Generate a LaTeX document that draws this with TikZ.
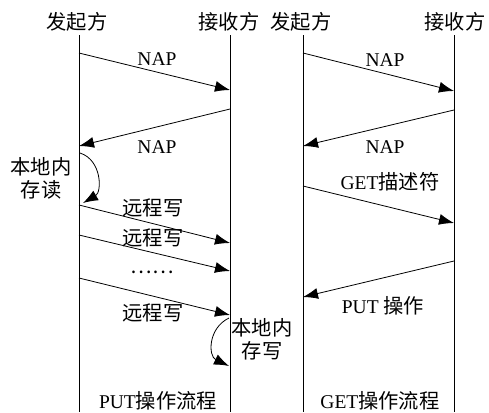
\documentclass[tikz,border=0pt]{standalone}
\usepackage{fontspec}
\setmainfont{Liberation Serif}
\newfontfamily\cjk[Scale=1.04]{Noto Sans CJK SC}
\usetikzlibrary{arrows.meta}
\begin{document}
\begin{tikzpicture}[x=1bp,y=-1bp,
  font=\fontsize{19.5bp}{23bp}\selectfont,
  life/.style={line width=0.8bp},
  msg/.style={line width=0.8bp,-{Latex[length=15bp,width=11bp]}},
  lbl/.style={inner sep=0pt,align=center}]
\useasboundingbox (0,0) rectangle (489,412);
% headers
\node[lbl] (h1) at (77,22) {\cjk 发起方};
\node[lbl] (h2) at (229,22) {\cjk 接收方};
\node[lbl] (h3) at (301,22) {\cjk 发起方};
\node[lbl] (h4) at (455,22) {\cjk 接收方};
% lifelines
\coordinate (a0) at (79,35);  \coordinate (a1) at (79,412);
\coordinate (b0) at (230,35); \coordinate (b1) at (230,412);
\coordinate (c0) at (303,35); \coordinate (c1) at (303,412);
\coordinate (d0) at (454,35); \coordinate (d1) at (454,412);
\draw[life] (a0) -- (a1);
\draw[life] (b0) -- (b1);
\draw[life] (c0) -- (c1);
\draw[life] (d0) -- (d1);
% PUT panel
\coordinate (p1s) at (79,53);  \coordinate (p1e) at (230,90);
\coordinate (p2s) at (230,109); \coordinate (p2e) at (79,146);
\coordinate (p3s) at (80,153);  \coordinate (p3e) at (83,203);
\coordinate (p4s) at (79,205);  \coordinate (p4e) at (230,243);
\coordinate (p5s) at (79,235);  \coordinate (p5e) at (230,271);
\coordinate (p6s) at (79,278);  \coordinate (p6e) at (230,315);
\coordinate (p7s) at (229,318); \coordinate (p7e) at (229,366);
\draw[msg] (p1s) -- (p1e);
\draw[msg] (p2s) -- (p2e);
\draw[msg] (p3s) .. controls (102,160) and (102,192) .. (p3e);
\draw[msg] (p4s) -- (p4e);
\draw[msg] (p5s) -- (p5e);
\draw[msg] (p6s) -- (p6e);
\draw[msg] (p7s) .. controls (208,328) and (208,356) .. (p7e);
\node[lbl] (n1) at (157,59) {NAP};
\node[lbl] (n2) at (157,147) {NAP};
\node[lbl] (n3) at (41,178) {\cjk 本地内\\\cjk 存读};
\node[lbl] (n4) at (153,208) {\cjk 远程写};
\node[lbl] (n5) at (153,238) {\cjk 远程写};
\node[lbl] (n6) at (152,272) {\cjk ……};
\node[lbl] (n7) at (153,313) {\cjk 远程写};
\node[lbl] (n8) at (262,339) {\cjk 本地内\\\cjk 存写};
\node[lbl] (n9) at (158,401) {PUT{\cjk 操作流程}};
% GET panel
\coordinate (q1s) at (303,53);  \coordinate (q1e) at (454,91);
\coordinate (q2s) at (454,110); \coordinate (q2e) at (303,146);
\coordinate (q3s) at (303,186); \coordinate (q3e) at (454,223);
\coordinate (q4s) at (454,261); \coordinate (q4e) at (303,297);
\draw[msg] (q1s) -- (q1e);
\draw[msg] (q2s) -- (q2e);
\draw[msg] (q3s) -- (q3e);
\draw[msg] (q4s) -- (q4e);
\node[lbl] (m1) at (385,60) {NAP};
\node[lbl] (m2) at (385,147) {NAP};
\node[lbl] (m3) at (390,182) {GET{\cjk 描述符}};
\node[lbl] (m4) at (383,306) {PUT {\cjk 操作}};
\node[lbl] (m5) at (380,401) {GET{\cjk 操作流程}};
\end{tikzpicture}
\end{document}
